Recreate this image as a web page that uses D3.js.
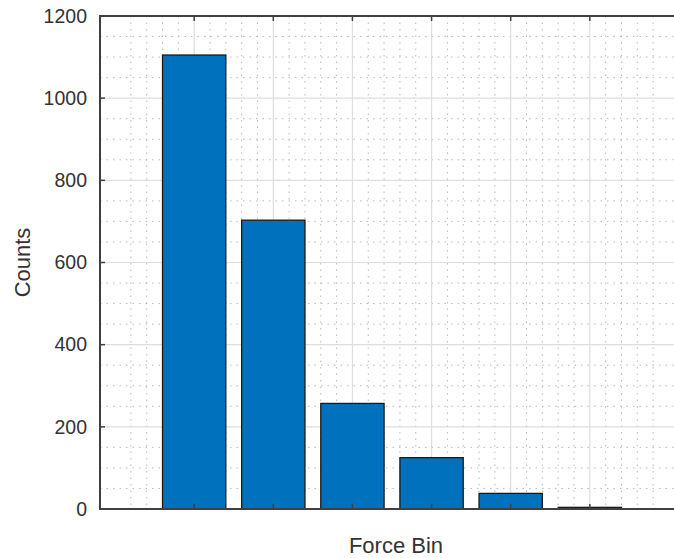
<!DOCTYPE html>
<html>
<head>
<meta charset="utf-8">
<script src="https://cdn.jsdelivr.net/npm/d3@7"></script>
<style>
  html, body { margin: 0; padding: 0; background: #ffffff; }
  svg { display: block; }
  text { font-family: "Liberation Sans", Arial, Helvetica, sans-serif; fill: #333333; }
</style>
</head>
<body>
<svg id="chart" width="674" height="558"></svg>
<script>
// Histogram counts per force bin
const bins = [1, 2, 3, 4, 5, 6];
const counts = [1105, 703, 257, 125, 38, 4];
const yTicks = [0, 200, 400, 600, 800, 1000, 1200];
const xLabel = "Force Bin";
const yLabel = "Counts";

(function drawChart() {
  const svg = d3.select("#chart");
  const plotLeft = 100, plotTop = 16, plotRight = 684, plotBottom = 509;

  const x = d3.scaleLinear().domain([-0.19, 7.19]).range([plotLeft, plotRight]);
  const y = d3.scaleLinear().domain([0, 1200]).range([plotBottom, plotTop]);

  svg.append("defs").append("clipPath").attr("id", "plotArea")
    .append("rect").attr("x", plotLeft).attr("y", plotTop)
    .attr("width", plotRight - plotLeft).attr("height", plotBottom - plotTop);

  const grid = svg.append("g").attr("clip-path", "url(#plotArea)");

  // minor grid (dotted)
  const minorX = d3.range(-0.2, 7.2001, 0.2).filter(v => Math.abs(v - Math.round(v)) > 1e-6);
  const minorY = d3.range(0, 1200.001, 50).filter(v => v % 200 !== 0);
  grid.selectAll("line.mx").data(minorX).join("line")
    .attr("x1", d => x(d)).attr("x2", d => x(d))
    .attr("y1", plotTop).attr("y2", plotBottom)
    .attr("stroke", "#b8b8b8").attr("stroke-width", 1)
    .attr("stroke-dasharray", "1.5,5");
  grid.selectAll("line.my").data(minorY).join("line")
    .attr("y1", d => y(d)).attr("y2", d => y(d))
    .attr("x1", plotLeft).attr("x2", plotRight)
    .attr("stroke", "#b8b8b8").attr("stroke-width", 1)
    .attr("stroke-dasharray", "1.5,5");

  // major grid (solid)
  grid.selectAll("line.gx").data(bins).join("line")
    .attr("x1", d => x(d)).attr("x2", d => x(d))
    .attr("y1", plotTop).attr("y2", plotBottom)
    .attr("stroke", "#dedede").attr("stroke-width", 1.2);
  grid.selectAll("line.gy").data(yTicks).join("line")
    .attr("y1", d => y(d)).attr("y2", d => y(d))
    .attr("x1", plotLeft).attr("x2", plotRight)
    .attr("stroke", "#dedede").attr("stroke-width", 1.2);

  // bars
  const barW = 0.8;
  svg.append("g").selectAll("rect").data(counts).join("rect")
    .attr("x", (d, i) => x(bins[i] - barW / 2))
    .attr("width", (d, i) => x(bins[i] + barW / 2) - x(bins[i] - barW / 2))
    .attr("y", d => y(d))
    .attr("height", d => y(0) - y(d))
    .attr("fill", "#0072BD")
    .attr("stroke", "#1a1a1a")
    .attr("stroke-width", 1.3);

  // axes box and ticks
  const axisColor = "#404040";
  const axes = svg.append("g");
  axes.append("line").attr("x1", plotLeft).attr("x2", plotLeft)
    .attr("y1", plotTop - 1).attr("y2", plotBottom + 1)
    .attr("stroke", axisColor).attr("stroke-width", 2);
  axes.append("line").attr("x1", plotLeft - 1).attr("x2", plotRight)
    .attr("y1", plotBottom).attr("y2", plotBottom)
    .attr("stroke", axisColor).attr("stroke-width", 2);
  axes.append("line").attr("x1", plotLeft - 1).attr("x2", plotRight)
    .attr("y1", plotTop).attr("y2", plotTop)
    .attr("stroke", axisColor).attr("stroke-width", 2);

  const tickLen = 5;
  axes.selectAll("line.xtb").data(bins).join("line")
    .attr("x1", d => x(d)).attr("x2", d => x(d))
    .attr("y1", plotBottom).attr("y2", plotBottom - tickLen)
    .attr("stroke", axisColor).attr("stroke-width", 1.5);
  axes.selectAll("line.xtt").data(bins).join("line")
    .attr("x1", d => x(d)).attr("x2", d => x(d))
    .attr("y1", plotTop).attr("y2", plotTop + tickLen)
    .attr("stroke", axisColor).attr("stroke-width", 1.5);
  axes.selectAll("line.yt").data(yTicks).join("line")
    .attr("x1", plotLeft).attr("x2", plotLeft + tickLen)
    .attr("y1", d => y(d)).attr("y2", d => y(d))
    .attr("stroke", axisColor).attr("stroke-width", 1.5);

  // tick labels
  svg.append("g").selectAll("text").data(yTicks).join("text")
    .attr("x", plotLeft - 13)
    .attr("y", d => y(d))
    .attr("dy", "0.35em")
    .attr("text-anchor", "end")
    .attr("font-size", 19.5)
    .text(d => d);

  // axis labels
  svg.append("text")
    .attr("x", 396).attr("y", 553)
    .attr("text-anchor", "middle")
    .attr("font-size", 22)
    .text(xLabel);
  svg.append("text")
    .attr("transform", `translate(30, ${(plotTop + plotBottom) / 2}) rotate(-90)`)
    .attr("text-anchor", "middle")
    .attr("font-size", 22)
    .text(yLabel);
})();
</script>
</body>
</html>
